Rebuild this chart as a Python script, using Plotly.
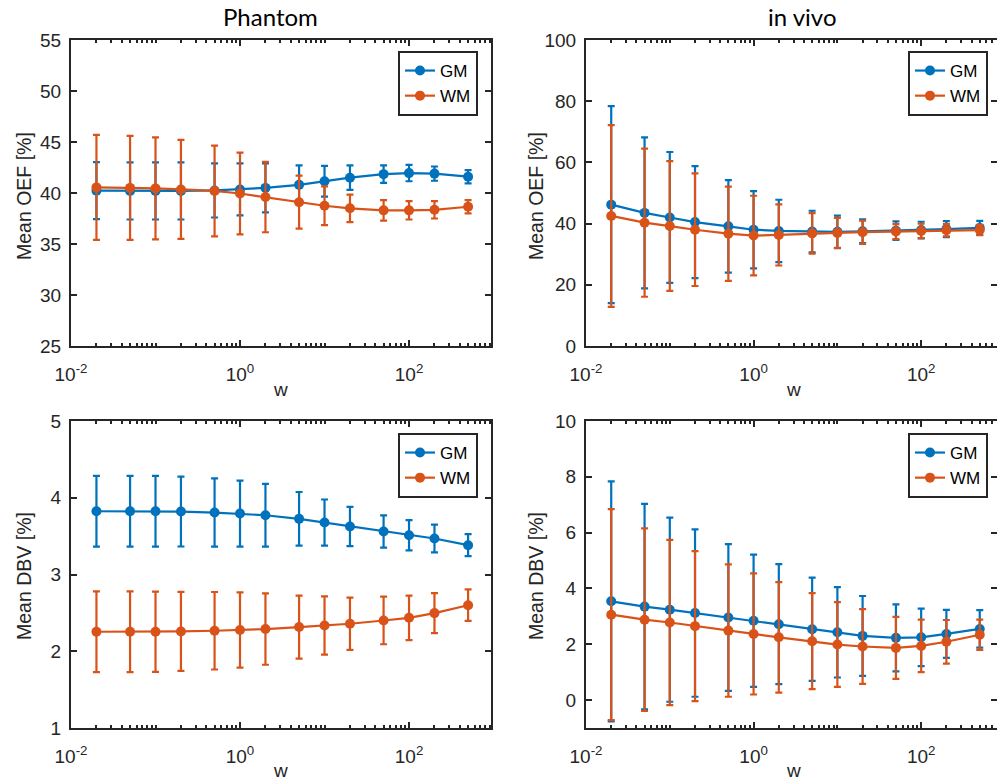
import plotly.graph_objects as go

# ---------------- data ----------------
w = [0.02, 0.05, 0.1, 0.2, 0.5, 1, 2, 5, 10, 20, 50, 100, 200, 500]

# Phantom, OEF
ph_oef_gm = [40.23, 40.2, 40.2, 40.2, 40.25, 40.35, 40.5, 40.8, 41.15, 41.5, 41.85, 41.95, 41.9, 41.6]
ph_oef_gm_sd = [2.8, 2.8, 2.8, 2.8, 2.65, 2.55, 2.4, 1.9, 1.5, 1.2, 0.85, 0.8, 0.7, 0.65]
ph_oef_wm = [40.55, 40.5, 40.45, 40.35, 40.2, 39.95, 39.6, 39.1, 38.75, 38.5, 38.3, 38.3, 38.35, 38.65]
ph_oef_wm_sd = [5.15, 5.1, 5.0, 4.85, 4.45, 4.0, 3.45, 2.6, 1.9, 1.35, 1.0, 0.9, 0.85, 0.65]

# in vivo, OEF
iv_oef_gm = [46.2, 43.5, 42.0, 40.5, 39.1, 38.0, 37.6, 37.4, 37.3, 37.5, 37.7, 37.9, 38.2, 38.6]
iv_oef_gm_sd = [32.2, 24.7, 21.4, 18.3, 15.1, 12.6, 10.2, 6.8, 5.3, 3.9, 3.0, 2.7, 2.6, 2.3]
iv_oef_wm = [42.5, 40.3, 39.2, 38.0, 36.7, 36.1, 36.3, 36.8, 36.96, 37.2, 37.4, 37.6, 37.8, 37.9]
iv_oef_wm_sd = [29.7, 24.2, 21.2, 18.4, 15.4, 13.0, 10.0, 6.6, 4.9, 3.8, 2.45, 2.35, 2.0, 1.7]

# Phantom, DBV
ph_dbv_gm = [3.824, 3.824, 3.824, 3.82, 3.807, 3.794, 3.772, 3.725, 3.677, 3.625, 3.56, 3.512, 3.469, 3.382]
ph_dbv_gm_sd = [0.46, 0.46, 0.46, 0.455, 0.445, 0.43, 0.41, 0.35, 0.3, 0.255, 0.21, 0.197, 0.18, 0.143]
ph_dbv_wm = [2.254, 2.254, 2.254, 2.258, 2.267, 2.276, 2.289, 2.315, 2.336, 2.358, 2.401, 2.436, 2.497, 2.60]
ph_dbv_wm_sd = [0.525, 0.525, 0.522, 0.515, 0.505, 0.49, 0.465, 0.41, 0.38, 0.34, 0.31, 0.29, 0.26, 0.205]

# in vivo, DBV
iv_dbv_gm = [3.54, 3.35, 3.24, 3.12, 2.96, 2.84, 2.72, 2.54, 2.43, 2.30, 2.23, 2.25, 2.37, 2.55]
iv_dbv_gm_sd = [4.3, 3.68, 3.3, 3.0, 2.63, 2.37, 2.15, 1.85, 1.62, 1.43, 1.2, 1.03, 0.86, 0.67]
iv_dbv_wm = [3.06, 2.88, 2.78, 2.65, 2.49, 2.37, 2.25, 2.11, 1.99, 1.92, 1.87, 1.94, 2.09, 2.34]
iv_dbv_wm_sd = [3.78, 3.27, 2.96, 2.69, 2.37, 2.17, 1.98, 1.72, 1.52, 1.34, 1.11, 0.94, 0.78, 0.54]

series_names = ["GM", "WM"]
col_titles = ["Phantom", "in vivo"]
y_titles = ["Mean OEF [%]", "Mean DBV [%]"]
x_title = "w"
major_ticks = [0.01, 1, 100]
major_text = ["10<sup>-2</sup>", "10<sup>0</sup>", "10<sup>2</sup>"]

# ---------------- style ----------------
W, H = 997, 782
BLUE = "#0072BD"
ORANGE = "#D95319"
AX = "#262626"
FONT = "Liberation Sans, Arial, sans-serif"
TFONT = "Lato, Open Sans, sans-serif"
TICK_SIZE = 19

def px(x):
    return x / W

def py(y):
    return 1 - y / H

# panel pixel geometry (left, right, top, bottom)
panels = {
    1: dict(x=(71, 491), y=(40, 346), xr=(-2, 2.97), yr=(25, 55), dt=5),
    2: dict(x=(586, 997), y=(40, 346), xr=(-2, 2.905), yr=(0, 100), dt=20),
    3: dict(x=(71, 491), y=(421, 728), xr=(-2, 2.97), yr=(1, 5), dt=1),
    4: dict(x=(586, 997), y=(421, 728), xr=(-2, 2.905), yr=(-1, 10), dt=2),
}

data = {
    1: [(ph_oef_gm, ph_oef_gm_sd), (ph_oef_wm, ph_oef_wm_sd)],
    2: [(iv_oef_gm, iv_oef_gm_sd), (iv_oef_wm, iv_oef_wm_sd)],
    3: [(ph_dbv_gm, ph_dbv_gm_sd), (ph_dbv_wm, ph_dbv_wm_sd)],
    4: [(iv_dbv_gm, iv_dbv_gm_sd), (iv_dbv_wm, iv_dbv_wm_sd)],
}

minor_ticks = []
for e in range(-2, 3):
    for k in range(1, 10):
        v = k * 10 ** e
        if v not in major_ticks:
            minor_ticks.append(v)
minor_ticks.append(1000)

fig = go.Figure()
layout = dict(
    width=W, height=H,
    margin=dict(l=0, r=0, t=0, b=0, pad=0, autoexpand=False),
    paper_bgcolor="white", plot_bgcolor="white",
    showlegend=True,
    font=dict(family=FONT, size=TICK_SIZE, color=AX),
)

colors = [BLUE, ORANGE]
for i in range(1, 5):
    p = panels[i]
    sfx = "" if i == 1 else str(i)
    for j, (mean, sd) in enumerate(data[i]):
        fig.add_trace(go.Scatter(
            x=w, y=mean, mode="lines+markers", name=series_names[j],
            xaxis="x" + sfx, yaxis="y" + sfx,
            legend="legend" + sfx,
            line=dict(color=colors[j], width=2.2),
            marker=dict(color=colors[j], size=10, symbol="circle"),
            error_y=dict(type="data", array=sd, visible=True,
                         color=colors[j], thickness=2.2, width=3.5),
        ))
    layout["xaxis" + sfx] = dict(
        type="log", range=list(p["xr"]),
        domain=[px(p["x"][0]), px(p["x"][1])],
        anchor="y" + sfx, automargin=False,
        showline=True, linecolor=AX, linewidth=2, mirror="ticks",
        ticks="inside", ticklen=6, tickwidth=1.5, tickcolor=AX,
        tickmode="array", tickvals=major_ticks, ticktext=major_text,
        minor=dict(tickmode="array", tickvals=minor_ticks, ticks="inside",
                   ticklen=3, tickwidth=1.5, tickcolor=AX, showgrid=False),
        showgrid=False, zeroline=False,
        tickfont=dict(family=FONT, size=TICK_SIZE, color=AX),
        ticklabelstandoff=10,
    )
    layout["yaxis" + sfx] = dict(
        range=list(p["yr"]),
        domain=[py(p["y"][1]), py(p["y"][0])],
        anchor="x" + sfx, automargin=False,
        showline=True, linecolor=AX, linewidth=2, mirror="ticks",
        ticks="inside", ticklen=6, tickwidth=1.5, tickcolor=AX,
        tick0=0, dtick=p["dt"],
        showgrid=False, zeroline=False,
        tickfont=dict(family=FONT, size=TICK_SIZE, color=AX),
        ticklabelstandoff=4,
    )
    # legend box
    lx_right = 478 if p["x"][0] < 300 else 988
    ly_top = 51 if i <= 2 else 433
    layout["legend" + sfx] = dict(
        x=px(lx_right), xanchor="right", y=py(ly_top), yanchor="top",
        xref="paper", yref="paper",
        bgcolor="white", bordercolor=AX, borderwidth=2,
        font=dict(family=FONT, size=17, color="black"),
        tracegroupgap=0, itemwidth=30,
    )

annotations = []
# column titles
for cx, t in zip([270, 802], col_titles):
    annotations.append(dict(text=t, x=px(cx), y=py(17), xref="paper", yref="paper",
                            showarrow=False, xanchor="center", yanchor="middle",
                            font=dict(family=TFONT, size=24, color="black")))
# y titles
for (cx, cy, t) in [(24, 196, y_titles[0]), (536, 196, y_titles[0]),
                    (24, 576, y_titles[1]), (536, 576, y_titles[1])]:
    annotations.append(dict(text=t, x=px(cx), y=py(cy), xref="paper", yref="paper",
                            showarrow=False, textangle=-90, xanchor="center", yanchor="middle",
                            font=dict(family=FONT, size=19.5, color=AX)))
# x titles
for (cx, cy) in [(280, 389), (793, 389), (280, 770), (793, 770)]:
    annotations.append(dict(text=x_title, x=px(cx), y=py(cy), xref="paper", yref="paper",
                            showarrow=False, xanchor="center", yanchor="middle",
                            font=dict(family=FONT, size=19, color=AX)))
layout["annotations"] = annotations

fig.update_layout(**layout)
fig.write_html("out.html")
